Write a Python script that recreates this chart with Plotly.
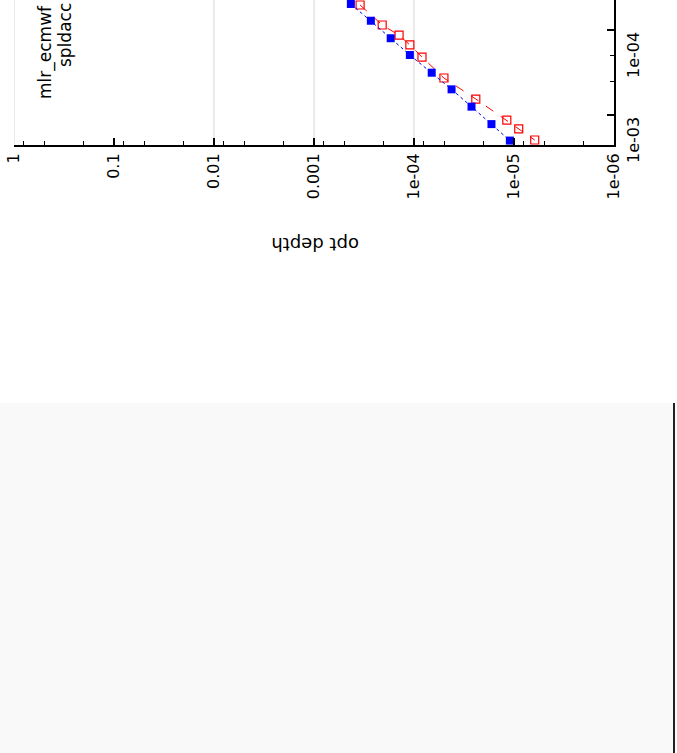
import numpy as np
import plotly.graph_objects as go

# ---- data ----
blue_depth = [4.28e-4, 2.70e-4, 1.71e-4, 1.10e-4, 6.65e-5, 4.21e-5, 2.66e-5, 1.68e-5, 1.10e-5]
blue_value = [4.94e-5, 7.78e-5, 1.25e-4, 1.97e-4, 3.18e-4, 4.99e-4, 7.98e-4, 1.28e-3, 2.00e-3]

red_depth = [3.46e-4, 2.08e-4, 1.41e-4, 1.10e-4, 8.32e-5, 5.02e-5, 2.41e-5, 1.18e-5, 8.97e-6, 6.21e-6]
red_value = [5.08e-5, 8.73e-5, 1.15e-4, 1.50e-4, 2.08e-4, 3.67e-4, 6.49e-4, 1.15e-3, 1.46e-3, 1.97e-3]

x_tick_vals = [1, 0.1, 0.01, 0.001, 1e-4, 1e-5, 1e-6]
x_tick_text = ["1", "0.1", "0.01", "0.001", "1e-04", "1e-05", "1e-06"]
x_minor_vals = [m * d for d in [1, 0.1, 0.01, 0.001, 1e-4, 1e-5, 1e-6] for m in (0.8, 0.5, 0.2)]
x_grid_vals = [1, 0.01, 0.001, 1e-4]

y_tick_vals = [1e-4, 1e-3]
y_tick_text = ["1e-04", "1e-03"]
y_minor_vals = [2e-4, 4e-4]

legend_lines = ["mlr_ecmwf", "spldacc"]
x_title = "opt depth"

# ---- geometry helpers (pixel -> paper) ----
W, H = 677, 753
L, R, T, B = 14, 63, 0, 608
pw, ph = W - L - R, H - T - B


def px(X):
    return (X - L) / pw


def py(Y):
    return (T + ph - Y) / ph


FONT = "DejaVu Sans"

fig = go.Figure()

fig.add_trace(go.Scatter(
    x=red_depth, y=red_value, mode="lines+markers",
    line=dict(color="#ff0000", width=1, dash="dash"),
    marker=dict(symbol="square-open", size=8, color="#ff0000", line=dict(width=1.2)),
    showlegend=False, hoverinfo="skip"))

fig.add_trace(go.Scatter(
    x=blue_depth, y=blue_value, mode="lines+markers",
    line=dict(color="#0000ff", width=1, dash="dot"),
    marker=dict(symbol="square", size=8, color="#0000ff"),
    showlegend=False, hoverinfo="skip"))

shapes = []
for g in x_grid_vals:
    shapes.append(dict(type="line", xref="x", yref="paper", x0=g, x1=g, y0=0, y1=1,
                       line=dict(color="#d4d4d4", width=1), layer="below"))

# lower panel
shapes.append(dict(type="rect", xref="paper", yref="paper",
                   x0=px(0), x1=px(673), y0=py(753), y1=py(403),
                   fillcolor="#f9f9f9", line=dict(width=0), layer="below"))
shapes.append(dict(type="line", xref="paper", yref="paper",
                   x0=px(674), x1=px(674), y0=py(753), y1=py(403),
                   line=dict(color="#222222", width=2)))

annotations = []
for v, t in zip(y_tick_vals, y_tick_text):
    annotations.append(dict(xref="paper", yref="y", x=px(633), y=np.log10(v), text=t,
                            textangle=-90, showarrow=False, xanchor="center", yanchor="top",
                            font=dict(family=FONT, size=16, color="black")))

annotations.append(dict(xref="paper", yref="paper", x=px(315), y=py(245), text=x_title,
                        textangle=180, showarrow=False, xanchor="center", yanchor="middle",
                        font=dict(family=FONT, size=18, color="black")))

annotations.append(dict(xref="paper", yref="paper", x=px(45), y=py(101), text=legend_lines[0],
                        textangle=-90, showarrow=False, xanchor="center", yanchor="bottom",
                        font=dict(family=FONT, size=17, color="black")))
annotations.append(dict(xref="paper", yref="paper", x=px(65), y=py(69), text=legend_lines[1],
                        textangle=-90, showarrow=False, xanchor="center", yanchor="bottom",
                        font=dict(family=FONT, size=17, color="black")))

fig.update_layout(
    template="none",
    width=W, height=H,
    margin=dict(l=L, r=R, t=T, b=B, pad=0),
    paper_bgcolor="white", plot_bgcolor="white",
    showlegend=False,
    shapes=shapes, annotations=annotations,
    xaxis=dict(type="log", range=[0, -6], showgrid=False, zeroline=False,
               showline=True, linecolor="black", linewidth=2,
               ticks="inside", ticklen=7, tickwidth=1.5, tickcolor="black",
               tickvals=x_tick_vals, ticktext=x_tick_text, tickangle=-90,
               tickfont=dict(family=FONT, size=16, color="black"),
               minor=dict(ticks="inside", ticklen=4, tickwidth=1, tickcolor="black",
                          tickvals=x_minor_vals, showgrid=False),
               automargin=False),
    yaxis=dict(type="log", range=[-2.647, -4.353], side="right", showgrid=False, zeroline=False,
               showline=True, linecolor="black", linewidth=2,
               ticks="inside", ticklen=7, tickwidth=1.5, tickcolor="black",
               tickvals=y_tick_vals, showticklabels=False,
               minor=dict(ticks="inside", ticklen=4, tickwidth=1, tickcolor="black",
                          tickvals=y_minor_vals, showgrid=False),
               automargin=False),
)

fig.write_html("out.html")
